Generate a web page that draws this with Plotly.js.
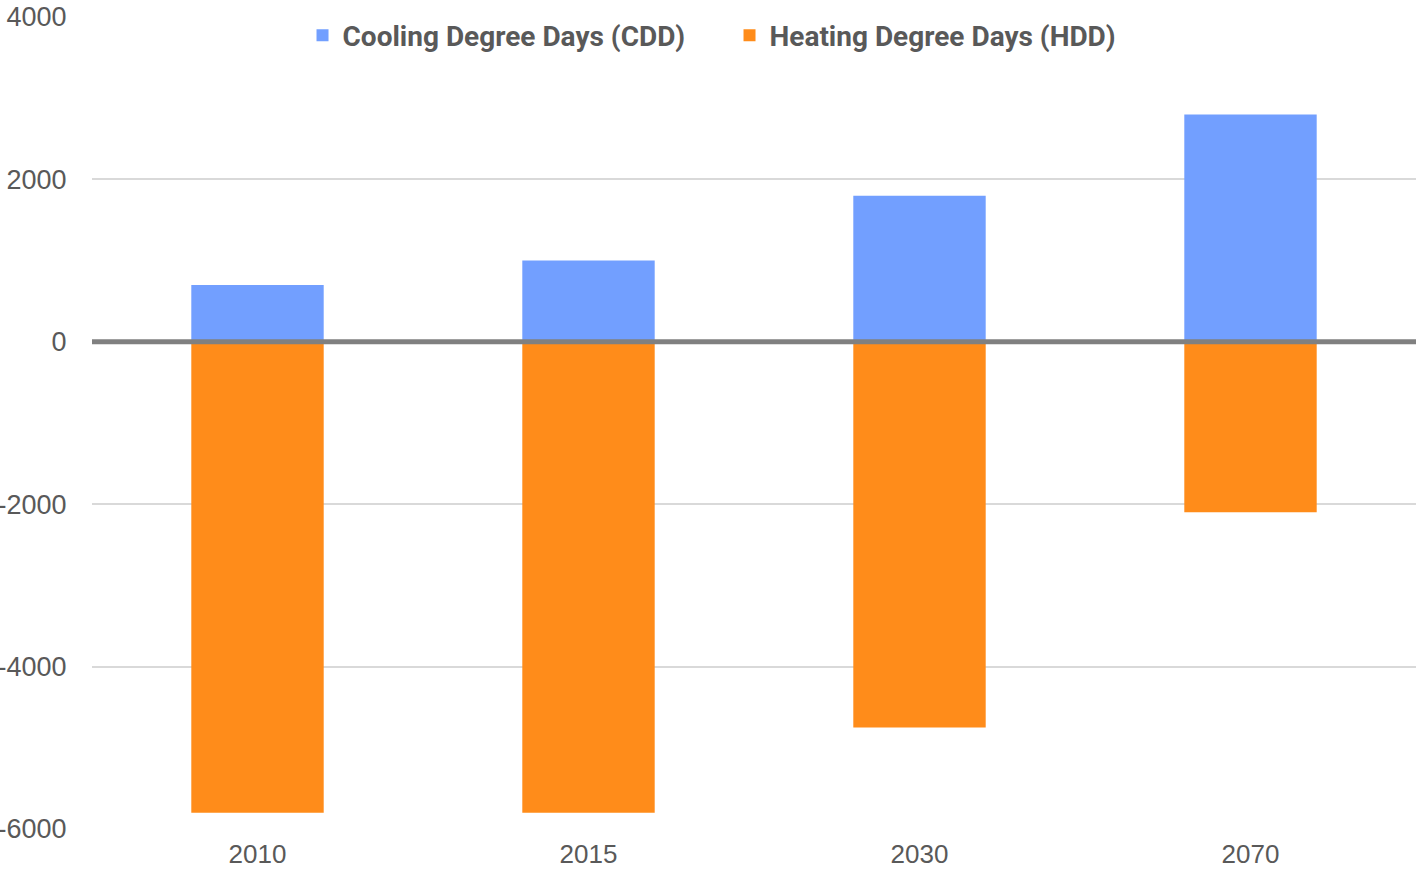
<!DOCTYPE html>
<html>
<head>
<meta charset="utf-8">
<script src="https://cdn.plot.ly/plotly-3.0.1.min.js"></script>
<style>html,body{margin:0;padding:0;background:#fff;}#chart{width:1416px;height:870px;}</style>
</head>
<body>
<div id="chart"></div>
<script>
const years = ["2010", "2015", "2030", "2070"];
const cdd = [700, 1000, 1800, 2800];
const hdd = [-5800, -5800, -4750, -2100];
const yTicks = [-6000, -4000, -2000, 0, 2000, 4000];

const textColor = "#595959";
const data = [
  {type: "bar", name: "Cooling Degree Days (CDD)", x: years, y: cdd,
   marker: {color: "#729FFF"}, width: 0.4, hoverinfo: "x+y"},
  {type: "bar", name: "Heating Degree Days (HDD)", x: years, y: hdd,
   marker: {color: "#FF8C1A"}, width: 0.4, hoverinfo: "x+y"}
];
const layout = {
  width: 1416, height: 870,
  margin: {l: 92, r: 0, t: 17, b: 41, pad: 0},
  paper_bgcolor: "#ffffff", plot_bgcolor: "#ffffff",
  barmode: "relative",
  font: {family: "Liberation Sans, Arial, sans-serif", size: 26, color: textColor},
  showlegend: true,
  legend: {orientation: "h", x: 0.159, xanchor: "left", y: 1.008, yanchor: "top",
    font: {family: "Roboto, sans-serif", size: 28, color: textColor, weight: "bold"},
    entrywidth: 382, entrywidthmode: "pixels", tracegroupgap: 0, traceorder: "normal"},
  xaxis: {type: "category", showgrid: false, zeroline: false, showline: false,
    ticks: "outside", ticklen: 2, tickcolor: "rgba(0,0,0,0)",
    tickfont: {size: 26, color: textColor}},
  yaxis: {range: [-6000, 4000], tickvals: yTicks, ticktext: yTicks.map(String),
    showgrid: true, gridcolor: "#d9d9d9", gridwidth: 2, zeroline: false, showline: false,
    ticks: "outside", ticklen: 19, tickcolor: "rgba(0,0,0,0)",
    tickfont: {size: 27, color: textColor}},
  shapes: [{type: "line", xref: "paper", yref: "y", x0: 0, x1: 1, y0: 0, y1: 0,
    line: {color: "#808080", width: 5}, layer: "above"}]
};
Plotly.newPlot("chart", data, layout, {displayModeBar: false, staticPlot: true});
</script>
</body>
</html>
